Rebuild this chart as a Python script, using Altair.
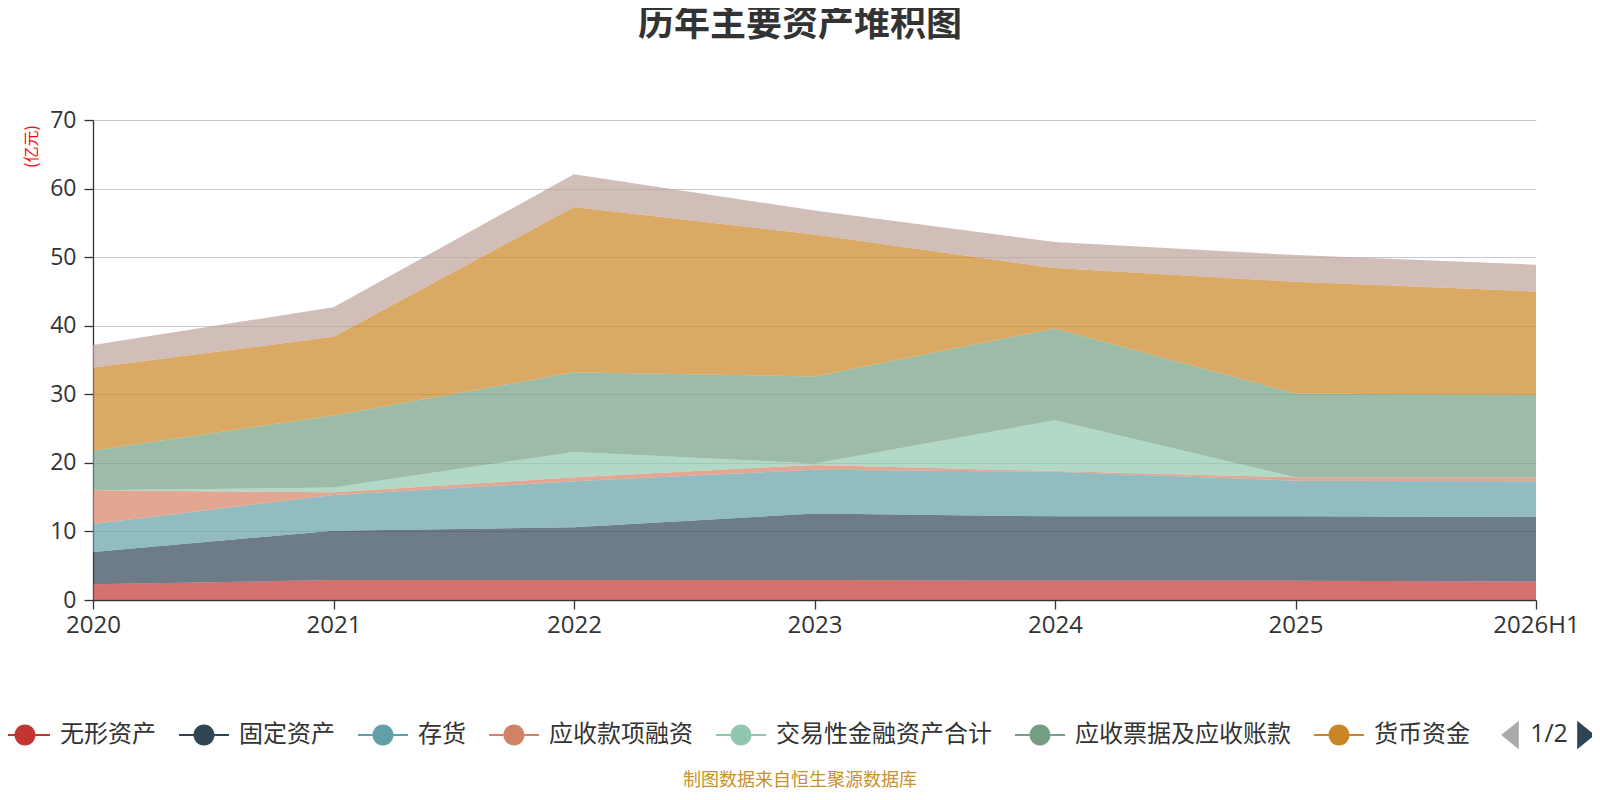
import altair as alt
import pandas as pd

# ---------------- data ----------------
years = ["2020", "2021", "2022", "2023", "2024", "2025", "2026H1"]

series_names = [
    "无形资产",
    "固定资产",
    "存货",
    "应收款项融资",
    "交易性金融资产合计",
    "应收票据及应收账款",
    "货币资金",
    "其他",
]
series_colors = ["#c23531", "#2f4554", "#61a0a8", "#d48265",
                 "#91c7ae", "#749f83", "#ca8622", "#bda29a"]

v_wuxing = [2.3, 2.9, 2.9, 2.9, 2.8, 2.8, 2.7]
v_guding = [4.7, 7.2, 7.7, 9.7, 9.4, 9.4, 9.4]
v_cunhuo = [4.1, 5.2, 6.7, 6.4, 6.5, 5.2, 5.2]
v_yingshourz = [4.9, 0.4, 0.6, 0.7, 0.1, 0.5, 0.6]
v_jiaoyi = [0.0, 0.7, 3.7, 0.2, 7.4, 0.0, 0.0]
v_yingshoupj = [5.8, 10.5, 11.6, 12.7, 13.4, 12.2, 12.0]
v_huobi = [12.1, 11.5, 24.1, 20.7, 8.8, 16.3, 15.1]
v_qita = [3.3, 4.3, 4.8, 3.5, 3.8, 3.9, 3.9]

series_values = [v_wuxing, v_guding, v_cunhuo, v_yingshourz,
                 v_jiaoyi, v_yingshoupj, v_huobi, v_qita]

legend_names = series_names[:7]
y_ticks = [0, 10, 20, 30, 40, 50, 60, 70]

rows = []
for i, (name, vals) in enumerate(zip(series_names, series_values)):
    for yr, v in zip(years, vals):
        rows.append({"year": yr, "series": name, "idx": i, "value": v})
df = pd.DataFrame(rows)

FONT = "Open Sans, Noto Sans CJK SC"
CJK = "Noto Sans CJK SC"

legend_path = ("M-1,-0.04L-0.42,-0.04L-0.42,0.04L-1,0.04Z "
               "M0.42,-0.04L1,-0.04L1,0.04L0.42,0.04Z "
               "M-0.42,0A0.42,0.42,0,1,1,0.42,0A0.42,0.42,0,1,1,-0.42,0Z")

area = alt.Chart(df).mark_area(opacity=0.7, strokeWidth=0).encode(
    x=alt.X("year:N", sort=years,
            scale=alt.Scale(type="point", padding=0),
            axis=alt.Axis(title=None, labelAngle=0, grid=False,
                          domainColor="#333", tickColor="#333", tickSize=9,
                          domainWidth=1.3, tickWidth=1.3,
                          labelFont=FONT, labelFontSize=24, labelColor="#333",
                          labelPadding=4)),
    y=alt.Y("value:Q", stack="zero",
            scale=alt.Scale(domain=[0, 70], nice=False),
            axis=alt.Axis(values=y_ticks, grid=True, gridColor="#c8c8c8", gridWidth=1,
                          domainColor="#333", tickColor="#333", tickSize=9,
                          domainWidth=1.3, tickWidth=1.3,
                          labelFont=FONT, labelFontSize=23, labelColor="#333",
                          labelPadding=8,
                          title="(亿元)", titleColor="#ff0000", titleFont=CJK,
                          titleFontSize=16, titleFontWeight="normal",
                          titleAngle=270, titleX=-62, titleY=26,
                          titleAlign="center", titleBaseline="middle")),
    color=alt.Color("series:N",
                    scale=alt.Scale(domain=series_names, range=series_colors),
                    legend=alt.Legend(values=legend_names, title=None,
                                      orient="none", legendX=-93, legendY=590,
                                      direction="horizontal", columns=8,
                                      symbolType=legend_path, symbolSize=2500,
                                      symbolOpacity=1, symbolStrokeWidth=0,
                                      labelFont=CJK, labelFontSize=24,
                                      labelColor="#333", labelOffset=10,
                                      labelLimit=400, columnPadding=23,
                                      padding=0)),
    order=alt.Order("idx:Q", sort="ascending"),
)

title = alt.Chart(pd.DataFrame({"t": ["历年主要资产堆积图"]})).mark_text(
    font=CJK, fontSize=36, fontWeight="bold", color="#333",
    align="center", baseline="alphabetic"
).encode(x=alt.value(707), y=alt.value(-84), text="t:N")

footer = alt.Chart(pd.DataFrame({"t": ["制图数据来自恒生聚源数据库"]})).mark_text(
    font=CJK, fontSize=18, color="#c8912d", align="center", baseline="alphabetic"
).encode(x=alt.value(707), y=alt.value(666), text="t:N")

page_text = alt.Chart(pd.DataFrame({"t": ["1/2"]})).mark_text(
    font=FONT, fontSize=25, color="#333", align="center", baseline="alphabetic"
).encode(x=alt.value(1456), y=alt.value(622), text="t:N")

tri_left = alt.Chart(pd.DataFrame({"t": [0]})).mark_point(
    shape="M1,-1.625L-1,0L1,1.625Z", filled=True, size=310,
    color="#aaaaaa", opacity=1, strokeWidth=0
).encode(x=alt.value(1417), y=alt.value(615))

tri_right = alt.Chart(pd.DataFrame({"t": [0]})).mark_point(
    shape="M-1,-1.625L1,0L-1,1.625Z", filled=True, size=310,
    color="#2f4554", opacity=1, strokeWidth=0
).encode(x=alt.value(1493), y=alt.value(615))

chart = alt.layer(area, title, footer, page_text, tri_left, tri_right).properties(
    width=1443, height=480,
    autosize=alt.AutoSizeParams(type="none"),
    padding={"left": 85, "top": 112, "right": 56, "bottom": 192},
    background="white",
).configure_view(stroke=None)

chart.save("out.html", embed_options={"renderer": "svg", "actions": False})
